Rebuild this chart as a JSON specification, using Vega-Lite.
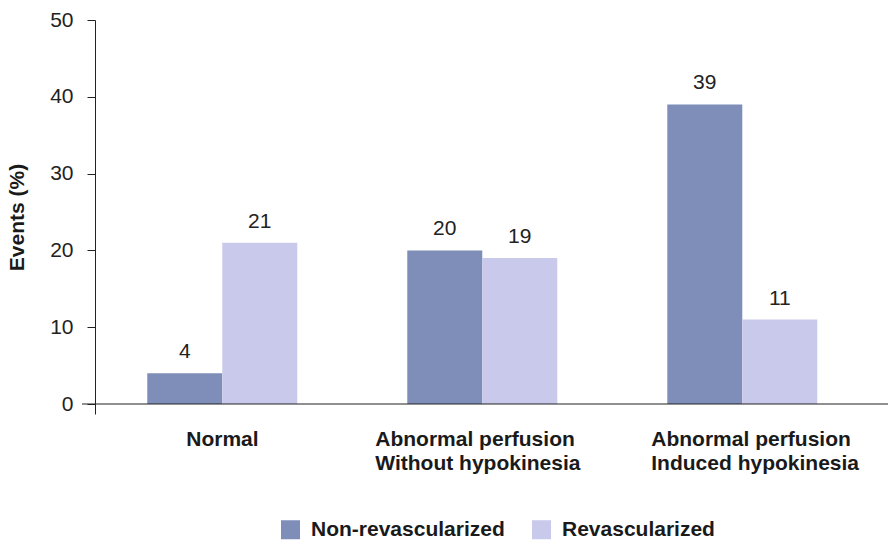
{
  "$schema": "https://vega.github.io/schema/vega-lite/v6.json",
  "width": 806,
  "height": 394,
  "autosize": {"type": "none"},
  "padding": {"left": 82, "top": 20, "right": 1, "bottom": 127},
  "background": "white",
  "config": {"view": {"stroke": null}, "font": "Liberation Sans"},
  "data": {
    "values": [
      {"group": "Normal", "status": "Non-revascularized", "value": 4},
      {"group": "Normal", "status": "Revascularized", "value": 21},
      {"group": "Abnormal perfusion|Without hypokinesia", "status": "Non-revascularized", "value": 20},
      {"group": "Abnormal perfusion|Without hypokinesia", "status": "Revascularized", "value": 19},
      {"group": "Abnormal perfusion|Induced hypokinesia", "status": "Non-revascularized", "value": 39},
      {"group": "Abnormal perfusion|Induced hypokinesia", "status": "Revascularized", "value": 11}
    ]
  },
  "layer": [
    {
      "mark": {"type": "bar"},
      "encoding": {
        "x": {
          "field": "group", "type": "nominal", "sort": null,
          "scale": {"paddingInner": 0.4231, "paddingOuter": 0.2615, "align": 0.48},
          "axis": {
            "title": null, "domain": false, "ticks": false, "labelAngle": 0,
            "labelFontSize": 21, "labelFontWeight": "bold", "labelColor": "#1a1a1a",
            "labelPadding": 14, "labelLineHeight": 24, "labelBaseline": "top",
            "labelLimit": 400, "labelAlign": "left",
            "labelOffset": {
              "condition": [
                {"test": "datum.value == 'Normal'", "value": -36},
                {"test": "datum.value == 'Abnormal perfusion|Without hypokinesia'", "value": -107}
              ],
              "value": -91
            },
            "labelExpr": "split(datum.label, '|')"
          }
        },
        "xOffset": {"field": "status", "type": "nominal", "sort": ["Non-revascularized", "Revascularized"]},
        "y": {
          "field": "value", "type": "quantitative",
          "scale": {"domain": [-1.3, 50], "nice": false, "zero": false},
          "axis": {
            "values": [0, 10, 20, 30, 40, 50], "offset": -13, "grid": false,
            "tickSize": 8, "tickColor": "#222", "domainColor": "#222",
            "labelFontSize": 21, "labelColor": "#222", "labelPadding": 14,
            "title": "Events (%)", "titleFontSize": 21, "titleFontWeight": "bold",
            "titleColor": "#1a1a1a", "titlePadding": 22
          }
        },
        "y2": {"datum": 0},
        "color": {
          "field": "status", "type": "nominal",
          "scale": {"domain": ["Non-revascularized", "Revascularized"], "range": ["#7f8db9", "#c9c9ec"]},
          "legend": {
            "title": null, "orient": "none", "direction": "horizontal",
            "legendX": 198, "legendY": 499,
            "symbolType": "square", "symbolSize": 361, "symbolStrokeWidth": 0, "symbolOpacity": 1,
            "labelFontSize": 21, "labelFontWeight": "bold", "labelColor": "#1a1a1a",
            "labelLimit": 400,
            "labelOffset": 10, "columnPadding": 26
          }
        }
      }
    },
    {
      "mark": {"type": "text", "dy": -11, "baseline": "bottom", "fontSize": 21, "color": "#222"},
      "encoding": {
        "x": {"field": "group", "type": "nominal", "sort": null},
        "xOffset": {"field": "status", "type": "nominal", "sort": ["Non-revascularized", "Revascularized"]},
        "y": {"field": "value", "type": "quantitative"},
        "text": {"field": "value", "type": "quantitative"}
      }
    },
    {
      "data": {"values": [{}]},
      "mark": {"type": "rule", "color": "#222", "strokeWidth": 1.2},
      "encoding": {"y": {"datum": 0}}
    }
  ]
}
